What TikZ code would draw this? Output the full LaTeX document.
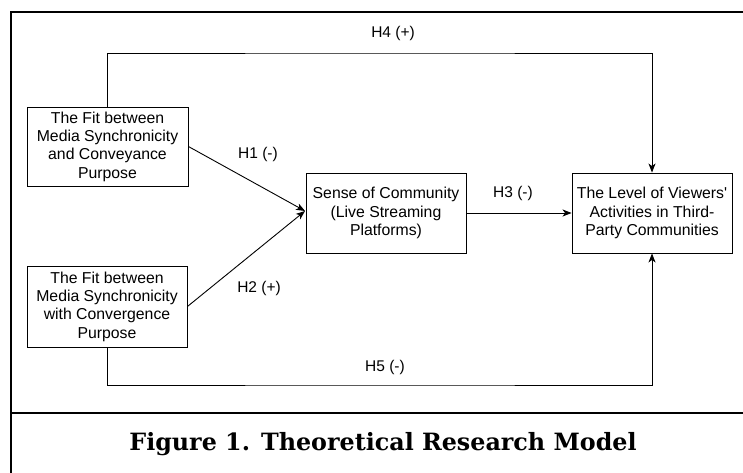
\documentclass[tikz,border=0pt]{standalone}
\usepackage{fontspec}
\setmainfont{Liberation Sans}
\newfontfamily\capfont{DejaVu Serif}
\usetikzlibrary{arrows.meta}
\begin{document}
\begin{tikzpicture}[x=1pt,y=-1pt,
  box/.style={draw, line width=0.9pt, minimum width=#1, align=center, inner sep=0pt,
    font=\fontsize{15.8}{18.3}\selectfont},
  lbl/.style={font=\fontsize{15.5}{18}\selectfont, inner sep=0pt},
  conn/.style={line width=0.9pt},
  arr/.style={conn, -{Stealth[length=9pt,width=7pt,inset=2.5pt]}}]
\useasboundingbox (0,0) rectangle (743,473);
\fill[white] (0,0) rectangle (743,473);
% frame
\draw[line width=1.3pt] (11,473) -- (11,12) -- (743,12);
\draw[line width=2.2pt] (11,12) -- (25,12);
\draw[line width=2.2pt] (733,12) -- (743,12);
\draw[line width=2pt] (11,413) -- (743,413);
% boxes
\node[box=161pt, minimum height=79pt] (A) at (107.5,146.5) {The Fit between\\Media Synchronicity\\and Conveyance\\Purpose};
\node[box=160pt, minimum height=81pt] (B) at (107,306.5) {The Fit between\\Media Synchronicity\\with Convergence\\Purpose};
\node[box=160pt, minimum height=80pt] (C) at (386,213) {Sense of Community\\(Live Streaming\\Platforms)};
\node[box=160pt, minimum height=80pt] (D) at (652,213) {The Level of Viewers\textquotesingle\\Activities in Third-\\Party Communities};
% connectors
\coordinate (h4) at (380,53);
\coordinate (h5) at (380,385);
\coordinate (cin) at (305,211);
\draw[arr] (A.east) -- (cin);
\draw[arr] (B.east) -- (cin);
\draw[arr] (C.east) -- (D.west);
\draw[arr] (A.north) |- (h4) -| (D.north);
\draw[arr] (B.south) |- (h5) -| (D.south);
% labels
\node[lbl] (l4) at (393,33) {H4 (+)};
\node[lbl] (l1) at (258,154) {H1 (-)};
\node[lbl] (l2) at (259,288) {H2 (+)};
\node[lbl] (l3) at (513,193) {H3 (-)};
\node[lbl] (l5) at (385,367) {H5 (-)};
% caption
\node[inner sep=0pt, font=\capfont\bfseries\fontsize{23.8}{28}\selectfont] (cap) at (383,444) {Figure 1. Theoretical Research Model};
\end{tikzpicture}
\end{document}
